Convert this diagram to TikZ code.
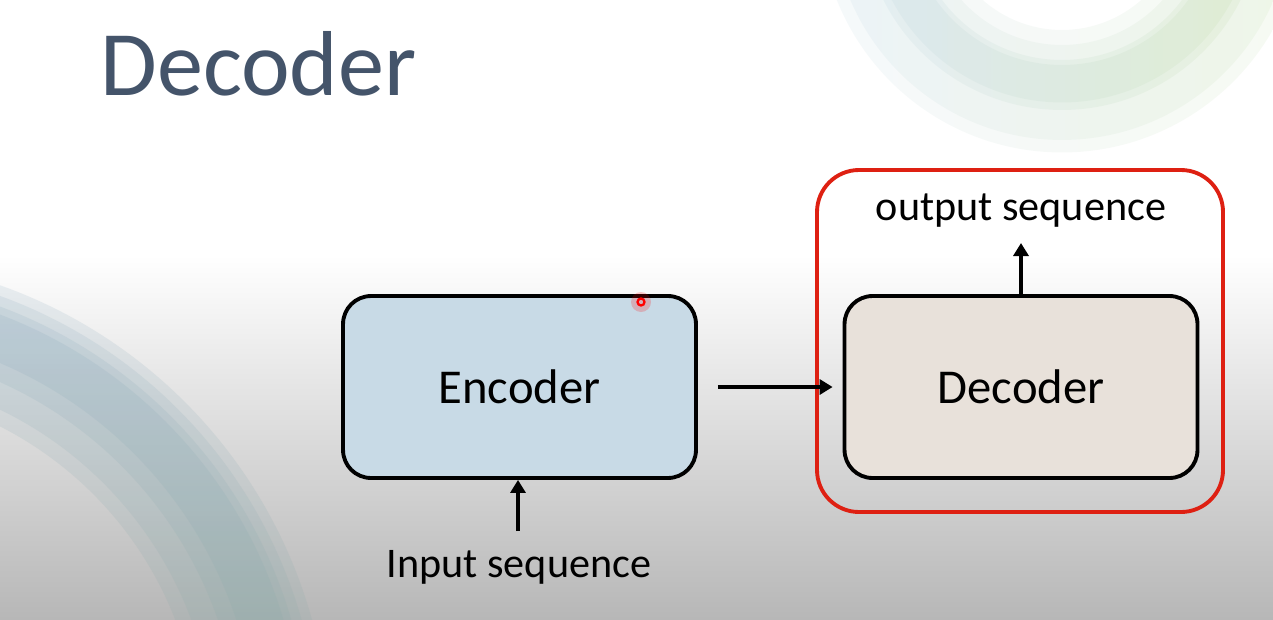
\documentclass[tikz,border=0pt]{standalone}
\usepackage{fontspec}
\setmainfont{Carlito}
\usetikzlibrary{arrows.meta}
\definecolor{titlecol}{RGB}{68,84,106}
\definecolor{encfill}{RGB}{200,218,230}
\definecolor{decfill}{RGB}{232,225,218}
\definecolor{redline}{RGB}{222,32,18}
\definecolor{bggray}{RGB}{183,183,183}
\definecolor{blA}{RGB}{150,178,198}
\definecolor{blB}{RGB}{128,160,120}
\definecolor{trA}{RGB}{165,198,218}
\definecolor{trB}{RGB}{175,212,140}
\tikzset{
  box/.style={draw=black, line width=2.2pt, rounded corners=0.56cm,
    minimum width=7.06cm, minimum height=3.64cm, inner sep=0pt,
    font=\fontsize{27.7}{32}\selectfont},
  lbl/.style={font=\fontsize{24}{28}\selectfont, inner sep=0pt, anchor=base},
  arr/.style={line width=2.2pt, -{Triangle[length=0.26cm,width=0.3cm]}},
  redbox/.style={draw=redline, line width=2.2pt, rounded corners=0.84cm},
  blband/.style={even odd rule, top color=blA, bottom color=blB, fill opacity=#1},
  trband/.style={even odd rule, left color=trA, right color=trB, fill opacity=#1}
}
\begin{document}
\begin{tikzpicture}[x=0.02cm,y=-0.02cm]
\useasboundingbox (0,0) rectangle (1273,619);
\begin{scope}
\clip (0,0) rectangle (1273,619);
% background
\fill[white] (0,0) rectangle (1273,619);
\shade[top color=white, bottom color=bggray] (0,255) rectangle (1273,619);
% bottom-left arcs
\coordinate (bl) at (-165,752);
\shade[blband=0.18] (bl) circle[radius=9.9cm] (bl) circle[radius=7.3cm];
\shade[blband=0.18] (bl) circle[radius=9.7cm] (bl) circle[radius=7.6cm];
\shade[blband=0.2] (bl) circle[radius=9.5cm] (bl) circle[radius=8.1cm];
\shade[blband=0.22] (bl) circle[radius=9.35cm] (bl) circle[radius=8.45cm];
% top-right arcs
\coordinate (tr) at (1062,-90);
\shade[trband=0.1] (tr) circle[radius=4.85cm] (tr) circle[radius=2.4cm];
\shade[trband=0.1] (tr) circle[radius=4.6cm] (tr) circle[radius=2.7cm];
\shade[trband=0.12] (tr) circle[radius=4.0cm] (tr) circle[radius=3.0cm];
\shade[trband=0.12] (tr) circle[radius=3.85cm] (tr) circle[radius=3.1cm];
\end{scope}
% title
\node[font=\fontsize{52.5}{60}\selectfont, text=titlecol, inner sep=0pt, anchor=base west] (title) at (100,95) {Decoder};
% red frame
\draw[redbox] (817,170) rectangle (1223,512);
% boxes
\node[box, fill=encfill] (enc) at (519.5,387) {Encoder};
\node[box, fill=decfill] (dec) at (1021,387) {Decoder};
% labels
\node[lbl] (out) at (1021,220) {output sequence};
\node[lbl] (inp) at (519,577) {Input sequence};
\coordinate (otip) at (1021,243);
\coordinate (istart) at (518,531);
% connectors
\draw[arr, shorten <=0.4cm, shorten >=0.2cm] (enc.east) -- (dec.west);
\draw[arr] (dec.north) -- (otip);
\draw[arr] (istart) -- (enc.south -| istart);
% laser pointer dot
\fill[red, opacity=0.2] (641,302) circle[radius=0.2cm];
\draw[red, line width=1.3pt] (641,302) circle[radius=0.07cm];
\end{tikzpicture}
\end{document}
